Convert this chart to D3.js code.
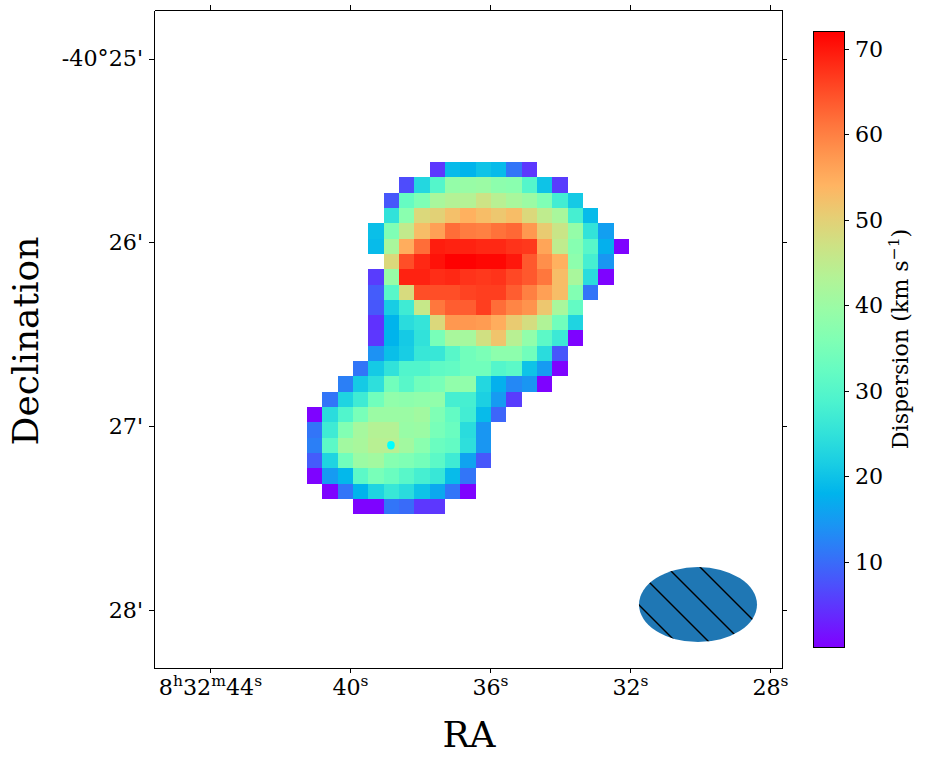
<!DOCTYPE html>
<html>
<head>
<meta charset="utf-8">
<script src="https://cdnjs.cloudflare.com/ajax/libs/d3/7.8.5/d3.min.js"></script>
<style>
    html, body { margin: 0; padding: 0; background: #fff; }
    svg { display: block; }
    text { font-family: "DejaVu Serif", serif; fill: #000; }
</style>
</head>
<body>
<svg id="chart" width="927" height="763"></svg>
<script>
// Tick positions and labels
const raTicks = [44, 40, 36, 32, 28];                     // seconds of RA after 8h32m
const decTicks = [25, 26, 27, 28];                        // arcmin after -40 deg
const decLabels = ["-40°25'", "26'", "27'", "28'"];
const colorbarTicks = [10, 20, 30, 40, 50, 60, 70];

// Limits of the axes
const raLimits = [45.6, 27.657];
const decLimits = [24.736, 28.316];
const dispersionLimits = [0.06, 72.1];

// Map grid: 5 arcsec pixels, first pixel corner at raStart, decStart
const raStart = 41.229;
const raStep = 0.438;
const decStart = 25.563;
const decStep = 5 / 60;

// First column of each row of the map
const rowStart = [8, 6, 5, 5, 4, 4, 5, 4, 4, 4, 4, 4, 4, 3, 2, 1, 0, 0, 0, 0, 0, 1, 3];

// Dispersion in km/s, one list per row
const dispersion = [
    [5, 19, 18, 20, 19, 11, 5],
    [7, 23, 30, 39, 39.5, 40, 38, 37.5, 30, 20, 5.5],
    [8, 32.5, 36, 42, 43.5, 43.5, 47, 44, 42, 40, 36, 27.5, 21],
    [25, 37.5, 49, 50, 52.5, 54.5, 53, 51.5, 53, 49, 45, 42, 28, 19],
    [19.5, 36, 45.5, 53, 56.5, 62, 60.5, 60, 61.5, 62.5, 57.5, 51, 46.5, 39, 25.3, 15.5],
    [19, 42, 55, 62, 69.5, 69, 69, 68.5, 68.5, 67.5, 67, 56, 45, 37, 30.5, 17.5, 0.3],
    [49, 65, 68.5, 70.5, 72, 72, 71.5, 71.5, 70, 64, 58.5, 54.5, 38, 28, 14.5],
    [5.5, 39.5, 69, 69, 68, 68.5, 67.5, 67, 67.5, 65.5, 64, 61, 53, 42, 24, 0.3],
    [8.5, 30.5, 48.5, 65, 65, 65, 66, 66.5, 66.5, 63.5, 60, 56.5, 53, 36.5, 11],
    [8, 21.5, 27, 46, 61, 63.5, 63.5, 66.5, 62, 59.5, 58, 51.5, 42, 32],
    [4.5, 18, 24, 25.5, 49, 57.5, 57.5, 57, 55, 51, 48, 43, 34, 22.5],
    [5, 18, 21, 25, 35, 42, 41.5, 47.5, 52, 44, 38.5, 31, 26.5, 0.3],
    [14, 19.5, 21.5, 26, 26, 30.5, 34, 35.5, 38, 38, 34, 24, 8],
    [11, 21, 25, 29.5, 29.5, 31.5, 32, 34, 34, 30, 31, 20, 15, 0.3],
    [12, 21, 24.5, 34, 30.5, 34, 35, 38.5, 38.5, 23, 17.5, 13, 14.5, 0.3],
    [11, 22.5, 27, 34, 38.5, 38, 38.5, 38.5, 28, 28, 22, 15, 5.5],
    [0.3, 24, 29.5, 35, 40, 40, 40, 41, 36, 32, 27.5, 19, 9.5],
    [11, 27, 36.5, 41.5, 43.5, 43.5, 39.5, 40, 35, 33, 24, 14.5],
    [12, 31, 41, 42, 44, 44, 41, 37.5, 33, 32, 24.5, 14.5],
    [8.5, 22.5, 34, 40, 41, 37, 36, 34.5, 31, 27, 16, 8],
    [0.3, 15, 18.5, 31, 35, 33, 30.5, 28, 26, 19, 11],
    [0.3, 11, 18, 22.5, 26, 24, 20, 16.5, 11, 0.3],
    [0.3, 0.3, 11, 10, 5, 5]
];

// Source marker and beam, in sky coordinates
const sourceRa = 38.83;
const sourceDec = 27.104;
const beamRa = 30.057;
const beamDec = 27.971;
const beamRaRadius = 1.686;
const beamDecRadius = 0.204;
const hatchOffsets = [34, 67, 100, 133];  // x - y of each hatch line

const tickFont = 22.2;
const supFont = 15.5;
const supShift = 9.2;

// Same formulas as matplotlib's rainbow colormap
function rainbow(t) {
    const r = Math.min(1, Math.abs(2 * t - 0.5));
    const g = Math.sin(Math.PI * t);
    const b = Math.cos(Math.PI * t / 2);
    return d3.rgb(r * 255, g * 255, b * 255).formatHex();
}

const svg = d3.select("#chart");

// d3 axes already add half a pixel to their lines, so the ranges stay on whole pixels
const x = d3.scaleLinear().domain(raLimits).range([154, 782]);
const y = d3.scaleLinear().domain(decLimits).range([10, 668]);
const colorPos = d3.scaleLinear().domain(dispersionLimits).range([647, 31]);
const color = d3.scaleLinear().domain(dispersionLimits).range([0, 1]).clamp(true);

// Map cells
const cells = [];
dispersion.forEach((row, r) => {
    row.forEach((v, i) => cells.push({ r: r, c: rowStart[r] + i, v: v }));
});

svg.append("g")
    .selectAll("rect")
    .data(cells)
    .join("rect")
    .attr("x", d => x(raStart - d.c * raStep))
    .attr("y", d => y(decStart + d.r * decStep))
    .attr("width", x(0) - x(raStep))
    .attr("height", y(decStep) - y(0))
    .attr("fill", d => rainbow(color(d.v)))
    .attr("shape-rendering", "crispEdges");

// Source marker
svg.append("ellipse")
    .attr("cx", x(sourceRa))
    .attr("cy", y(sourceDec))
    .attr("rx", 3.8)
    .attr("ry", 4.2)
    .attr("fill", "#00ffff");

// Beam with hatching
const beamCx = x(beamRa);
const beamCy = y(beamDec);
const beamRx = x(0) - x(beamRaRadius);
const beamRy = y(beamDecRadius) - y(0);

svg.append("clipPath")
    .attr("id", "beam-clip")
    .append("ellipse")
    .attr("cx", beamCx)
    .attr("cy", beamCy)
    .attr("rx", beamRx)
    .attr("ry", beamRy);

svg.append("ellipse")
    .attr("cx", beamCx)
    .attr("cy", beamCy)
    .attr("rx", beamRx)
    .attr("ry", beamRy)
    .attr("fill", "#1f77b4");

const hatchOrigin = 620;
svg.append("g")
    .attr("clip-path", "url(#beam-clip)")
    .selectAll("line")
    .data(hatchOffsets)
    .join("line")
    .attr("x1", hatchOrigin)
    .attr("y1", d => hatchOrigin - d)
    .attr("x2", hatchOrigin + 160)
    .attr("y2", d => hatchOrigin + 160 - d)
    .attr("stroke", "#000")
    .attr("stroke-width", 1.4);

// Frame and ticks on all four sides
function styleAxis(g) {
    g.selectAll(".domain, .tick line")
        .attr("stroke", "#000")
        .attr("stroke-width", 1)
        .attr("shape-rendering", "crispEdges");
    g.selectAll("text")
        .style("font-family", '"DejaVu Serif", serif')
        .style("font-size", tickFont + "px");
}

const bottomAxis = svg.append("g")
    .attr("transform", "translate(0,668)")
    .call(d3.axisBottom(x).tickValues(raTicks).tickSize(5).tickSizeOuter(0).tickPadding(6));
styleAxis(bottomAxis);

// RA labels carry h, m, s as raised letters
function addSuperscript(label, main, sup) {
    label.append("tspan").text(main);
    label.append("tspan").attr("dy", -supShift).style("font-size", supFont + "px").text(sup);
    label.append("tspan").attr("dy", supShift).text("");
}

bottomAxis.selectAll(".tick text").each(function(d, i) {
    const label = d3.select(this).text("").attr("dy", null).attr("y", 27);
    if (i === 0) {
        addSuperscript(label, "8", "h");
        label.append("tspan").attr("dy", supShift).text("32");
        label.append("tspan").attr("dy", -supShift).style("font-size", supFont + "px").text("m");
        label.append("tspan").attr("dy", supShift).text(d);
        label.append("tspan").attr("dy", -supShift).style("font-size", supFont + "px").text("s");
    } else {
        addSuperscript(label, d, "s");
    }
});

const topAxis = svg.append("g")
    .attr("transform", "translate(0,10)")
    .call(d3.axisTop(x).tickValues(raTicks).tickSize(5).tickSizeOuter(0).tickFormat(""));
styleAxis(topAxis);

const leftAxis = svg.append("g")
    .attr("transform", "translate(154,0)")
    .call(d3.axisLeft(y).tickValues(decTicks).tickSize(5).tickSizeOuter(0).tickPadding(6)
        .tickFormat((d, i) => decLabels[i]));
styleAxis(leftAxis);

const rightAxis = svg.append("g")
    .attr("transform", "translate(782,0)")
    .call(d3.axisRight(y).tickValues(decTicks).tickSize(5).tickSizeOuter(0).tickFormat(""));
styleAxis(rightAxis);

// Axis titles
svg.append("text")
    .attr("x", 469)
    .attr("y", 747)
    .attr("text-anchor", "middle")
    .style("font-size", "36px")
    .text("RA");

svg.append("text")
    .attr("transform", "translate(38,341) rotate(-90)")
    .attr("text-anchor", "middle")
    .style("font-size", "36px")
    .text("Declination");

// Colorbar
const gradient = svg.append("defs")
    .append("linearGradient")
    .attr("id", "rainbow-bar")
    .attr("x1", 0).attr("y1", 1)
    .attr("x2", 0).attr("y2", 0);

gradient.selectAll("stop")
    .data(d3.range(0, 1.0001, 0.05))
    .join("stop")
    .attr("offset", d => d)
    .attr("stop-color", d => rainbow(d));

svg.append("rect")
    .attr("x", 813.5)
    .attr("y", colorPos(dispersionLimits[1]) + 0.5)
    .attr("width", 31)
    .attr("height", colorPos(dispersionLimits[0]) - colorPos(dispersionLimits[1]))
    .attr("fill", "url(#rainbow-bar)")
    .attr("stroke", "#000")
    .attr("stroke-width", 1);

const colorAxis = svg.append("g")
    .attr("transform", "translate(844,0)")
    .call(d3.axisRight(colorPos).tickValues(colorbarTicks).tickSize(5).tickSizeOuter(0).tickPadding(6));
styleAxis(colorAxis);
colorAxis.select(".domain").remove();

const colorLabel = svg.append("text")
    .attr("transform", "translate(908,339) rotate(-90)")
    .attr("text-anchor", "middle")
    .style("font-size", tickFont + "px");
colorLabel.append("tspan").text("Dispersion (km s");
colorLabel.append("tspan").attr("dy", -supShift).style("font-size", supFont + "px").text("−1");
colorLabel.append("tspan").attr("dy", supShift).text(")");
</script>
</body>
</html>
